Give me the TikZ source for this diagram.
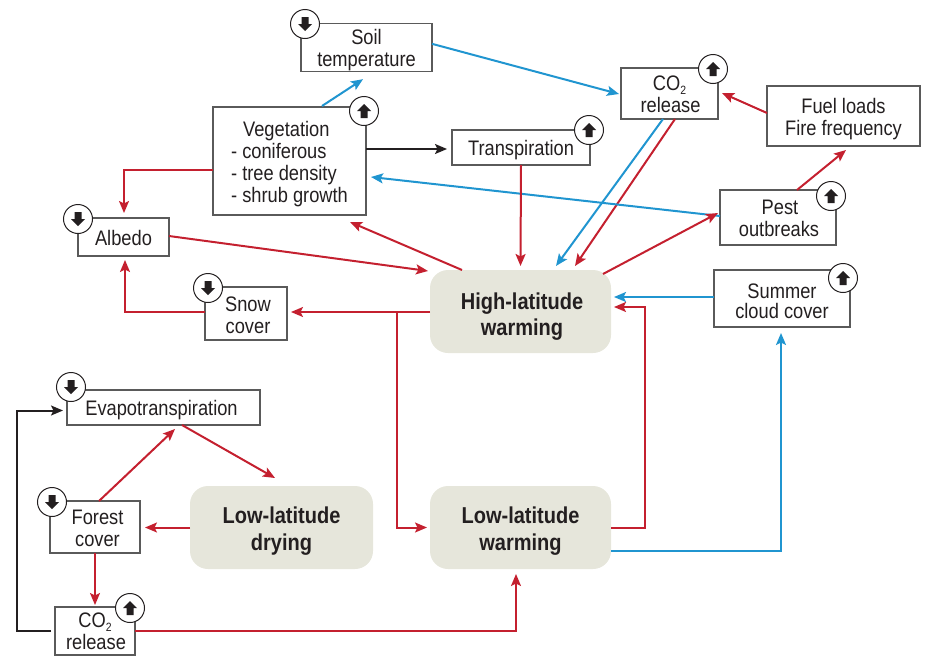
\documentclass[tikz,border=0pt]{standalone}
\usepackage{fontspec}
\setmainfont[FakeStretch=0.87]{Liberation Sans}
\usetikzlibrary{arrows.meta,calc}
\definecolor{cred}{HTML}{C4202F}
\definecolor{cblue}{HTML}{2095D0}
\definecolor{cblack}{HTML}{231F20}
\definecolor{cgrey}{HTML}{5A5A5A}
\definecolor{cfill}{HTML}{E6E6DB}
\newcommand{\cotwo}{CO\raisebox{-4pt}{\fontsize{12}{12}\selectfont 2}}
\newcommand{\ts}[1]{\rule{0pt}{\dimexpr15pt+#1pt*2\relax}}
\newcommand{\tsb}[1]{\rule{0pt}{\dimexpr17pt+#1pt*2\relax}}
\tikzset{
  x=1pt,y=-1pt,
  every node/.style={inner sep=0pt,outer sep=0pt,text=cblack,font=\fontsize{21}{22}\selectfont,align=center},
  box/.style 2 args={draw=cgrey,line width=1.3pt,fill=white,minimum width=#1,minimum height=#2},
  hub/.style 2 args={fill=cfill,rounded corners=18pt,minimum width=#1,minimum height=#2,font=\fontsize{23}{27}\selectfont\bfseries},
  badge/.style={circle,draw=cblack,line width=1pt,fill=white,minimum size=29pt},
  link/.style={line width=2pt,-{Stealth[length=12pt,width=10pt,inset=2.5pt]}},
  rd/.style={link,draw=cred},
  bl/.style={link,draw=cblue},
  bk/.style={link,draw=cblack},
}
\newcommand{\badgeup}[3]{\node[badge] (#1) at (#2,#3) {};
  \fill[cblack] ($(#1)+(0,-7)$) -- ($(#1)+(7,0)$) -- ($(#1)+(3.5,0)$) -- ($(#1)+(3.5,7)$) -- ($(#1)+(-3.5,7)$) -- ($(#1)+(-3.5,0)$) -- ($(#1)+(-7,0)$) -- cycle;}
\newcommand{\badgedown}[3]{\node[badge] (#1) at (#2,#3) {};
  \fill[cblack] ($(#1)+(0,7)$) -- ($(#1)+(7,0)$) -- ($(#1)+(3.5,0)$) -- ($(#1)+(3.5,-7)$) -- ($(#1)+(-3.5,-7)$) -- ($(#1)+(-3.5,0)$) -- ($(#1)+(-7,0)$) -- cycle;}
\begin{document}
\begin{tikzpicture}
\useasboundingbox (0,0) rectangle (926,656);
\node[box={131pt}{47pt}] (soil) at (366.5,47.5) {\ts{3}Soil\\temperature};
\node[box={153pt}{108pt},align=left] (veg) at (289.5,161) {\ts{3}\hspace*{12pt}Vegetation\\- coniferous\\- tree density\\- shrub growth};
\node[box={138pt}{35pt}] (trans) at (521,147.5) {\ts{3}Transpiration};
\node[box={97pt}{51pt}] (cotop) at (669.5,93.5) {\ts{1}\cotwo\\\hspace*{2pt}release};
\node[box={153pt}{60pt}] (fuel) at (843.5,116) {\ts{3}Fuel loads\\Fire frequency};
\node[box={116pt}{55pt}] (pest) at (778,217.5) {\ts{1}\hspace*{4pt}Pest\\\hspace*{2pt}outbreaks};
\node[box={91pt}{38pt}] (albedo) at (123.5,237) {\ts{1}Albedo};
\node[box={82pt}{53pt}] (snow) at (246,313.5) {\ts{1.5}\hspace*{4pt}Snow\\\hspace*{4pt}cover};
\node[hub={181pt}{83pt}] (high) at (520.5,311.5) {\tsb{5}\hspace*{3pt}High-latitude\\[-1pt]\hspace*{3pt}warming};
\node[box={136pt}{57pt}] (summer) at (782,298.5) {\ts{3}Summer\\[-2pt]cloud cover};
\node[box={193pt}{35pt}] (evap) at (163.5,407.5) {\ts{3}Evapotranspiration\hspace*{4pt}};
\node[box={90pt}{52pt}] (forest) at (95,527) {\ts{1}\hspace*{5pt}Forest\\\hspace*{5pt}cover};
\node[box={80pt}{48pt}] (colow) at (95,631) {\ts{0.5}\cotwo\\\hspace*{2pt}release};
\node[hub={183pt}{83pt}] (dry) at (281.5,527.5) {\tsb{3.5}Low-latitude\\drying};
\node[hub={181pt}{83pt}] (warm) at (520.5,527.5) {\tsb{3.5}Low-latitude\\warming};

\coordinate (jn) at ($(high.west)+(-33,0.5)$);
\coordinate (rl) at ($(colow.west)+(-38,0)$);

\draw[bl] ($(veg.north west)+(109,-1)$) -- ($(soil.south west)+(62,8)$);
\draw[bl] ($(soil.north east)+(0,20)$) -- ($(cotop.north west)+(-2,26)$);
\draw[bk] ($(veg.north east)+(0,42)$) -- ($(trans.north west)+(-5,19)$);
\draw[bl] ($(cotop.south west)+(42,0)$) -- ($(high.north west)+(126,-4)$);
\draw[rd] ($(cotop.south west)+(54,0)$) -- ($(high.north west)+(145,-4)$);
\draw[rd] ($(fuel.north west)+(0,27)$) -- ($(cotop.north east)+(4,25)$);
\draw[rd] ($(pest.north west)+(77,0)$) -- ($(fuel.south west)+(79,4)$);
\draw[bl] ($(pest.north west)+(0,26)$) -- ($(veg.north east)+(5,70)$);
\draw[rd] (trans.south) -- ($(high.north west)+(0.5,-4)+(90,0)$);
\draw[rd] ($(high.north west)+(32,0)$) -- ($(veg.south west)+(137,7)$);
\draw[rd] ($(high.north east)+(-8,4)$) -- ($(pest.north west)+(-2,23)$);
\draw[rd] ($(veg.north west)+(0,63)$) -| ($(albedo.north west)+(46,-5)$);
\draw[rd] ($(albedo.north east)+(0,18)$) -- ($(high.north west)+(-2,1)$);
\draw[rd] ($(snow.west)+(0,-1.5)$) -| ($(albedo.south west)+(47,4)$);
\draw[rd] ($(high.west)+(0,0.5)$) -- ($(snow.east)+(4,-1.5)$);
\draw[rd] (jn) |- ($(warm.west)+(-3,0)$);
\draw[bl] ($(summer.north west)+(0,27)$) -- ($(high.north east)+(3,27)$);
\draw[rd] (warm.east) -| ($(high.north east)+(34,37)$) -- ($(high.north east)+(3,37)$);
\draw[bl] ($(warm.east)+(0,23)$) -| ($(summer.south west)+(67,6)$);
\draw[rd] ($(evap.south west)+(115,0)$) -- ($(dry.north west)+(85,-8)$);
\draw[rd] ($(forest.north west)+(49,0)$) -- ($(evap.south west)+(108,4)$);
\draw[rd] (dry.west) -- ($(forest.east)+(5,0.5)$);
\draw[rd] (forest.south) -- ($(colow.north west)+(40,-2)$);
\draw[rd] (colow.east) -| ($(warm.south west)+(86,5)$);
\draw[bk] ($(colow.west)+(-4,0)$) -- (rl) |- ($(evap.west)+(-4,3)$);

\badgedown{bsoil}{305}{24}
\badgeup{bveg}{364}{111}
\badgeup{btrans}{589}{130}
\badgeup{bcotop}{713}{69}
\badgeup{bpest}{831}{196}
\badgedown{balbedo}{78}{219}
\badgedown{bsnow}{208}{288}
\badgeup{bsummer}{843}{278}
\badgedown{bevap}{71}{387}
\badgedown{bforest}{52}{502}
\badgeup{bcolow}{130}{608}
\end{tikzpicture}
\end{document}
